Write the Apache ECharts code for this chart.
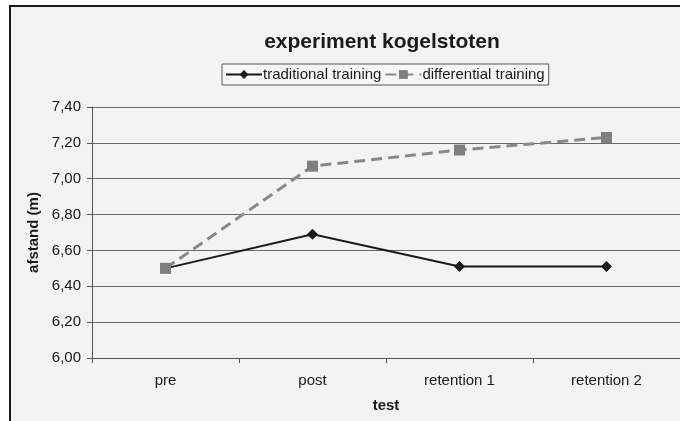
<!DOCTYPE html>
<html>
<head>
<meta charset="utf-8">
<script src="https://cdn.jsdelivr.net/npm/echarts@6/dist/echarts.min.js"></script>
<style>
  html, body { margin: 0; padding: 0; background: #ffffff; }
  #chart { width: 680px; height: 421px; }
</style>
</head>
<body>
<div id="chart"></div>
<script>
var categories = ['pre', 'post', 'retention 1', 'retention 2'];
var traditional = [6.50, 6.69, 6.51, 6.51];
var differential = [6.50, 7.07, 7.16, 7.23];

var chart = echarts.init(document.getElementById('chart'));
var font = 'Liberation Sans, Arial, sans-serif';

chart.setOption({
    animation: false,
    backgroundColor: '#ffffff',
    graphic: [{
        type: 'rect',
        z: -10,
        shape: { x: 10, y: 6, width: 700, height: 440 },
        style: { fill: '#f3f3f3', stroke: '#1a1a1a', lineWidth: 2 }
    }],
    title: {
        text: 'experiment kogelstoten',
        left: 377,
        textAlign: 'center',
        top: 27,
        textStyle: { fontFamily: font, fontSize: 21, fontWeight: 'bold', color: '#1a1a1a' }
    },
    legend: {
        left: 222,
        top: 64,
        itemGap: 3,
        itemWidth: 36,
        itemHeight: 11,
        padding: [3, 4, 3, 3],
        borderColor: '#555555',
        borderWidth: 1,
        backgroundColor: '#f6f6f6',
        borderRadius: 0,
        textStyle: { fontFamily: font, fontSize: 15, color: '#1a1a1a', padding: [0, 0, 0, -4] },
        data: ['traditional training', 'differential training']
    },
    grid: { left: 92, top: 107, bottom: 63, right: -2, containLabel: false },
    xAxis: {
        type: 'category',
        data: categories,
        boundaryGap: true,
        name: 'test',
        nameLocation: 'middle',
        nameGap: 40,
        nameTextStyle: { fontFamily: font, fontSize: 15, fontWeight: 'bold', color: '#1a1a1a' },
        axisLine: { lineStyle: { color: '#555555', width: 1 } },
        axisTick: { show: true, length: 5, alignWithLabel: false, lineStyle: { color: '#555555' } },
        axisLabel: { fontFamily: font, fontSize: 15, color: '#1a1a1a', margin: 15 }
    },
    yAxis: {
        type: 'value',
        min: 6,
        max: 7.4,
        interval: 0.2,
        name: 'afstand (m)',
        nameLocation: 'middle',
        nameGap: 48,
        nameTextStyle: { fontFamily: font, fontSize: 15, fontWeight: 'bold', color: '#1a1a1a' },
        axisLine: { show: true, lineStyle: { color: '#555555', width: 1 } },
        axisTick: { show: true, length: 5, lineStyle: { color: '#555555' } },
        axisLabel: {
            fontFamily: font, fontSize: 15, color: '#1a1a1a', margin: 11,
            formatter: function (v) { return v.toFixed(2).replace('.', ','); }
        },
        splitLine: { lineStyle: { color: '#6a6a6a', width: 1 } }
    },
    series: [{
        name: 'traditional training',
        type: 'line',
        data: traditional,
        symbol: 'diamond',
        symbolSize: 11,
        z: 3,
        itemStyle: { color: '#1a1a1a' },
        lineStyle: { color: '#1a1a1a', width: 2 }
    }, {
        name: 'differential training',
        type: 'line',
        data: differential,
        symbol: 'rect',
        symbolSize: 11,
        z: 4,
        itemStyle: { color: '#7f7f7f' },
        lineStyle: { color: '#888888', width: 3, type: [11, 6] }
    }]
});
</script>
</body>
</html>
